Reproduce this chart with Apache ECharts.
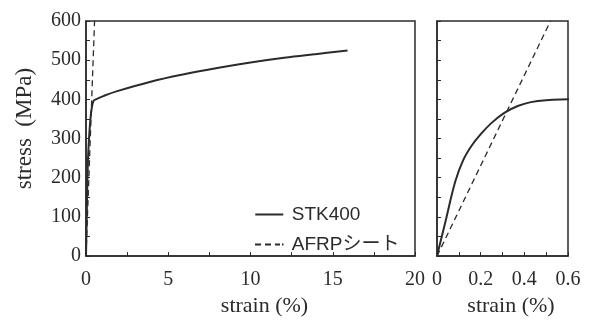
<!DOCTYPE html>
<html>
<head>
<meta charset="utf-8">
<script src="https://cdn.jsdelivr.net/npm/echarts@6/dist/echarts.min.js"></script>
<style>
  html, body { margin: 0; padding: 0; background: #fff; }
  #chart { width: 589px; height: 322px; }
</style>
</head>
<body>
<div id="chart"></div>
<script>
// strain (%) / stress (MPa)
const stkStrain = [0, 0.04, 0.084, 0.12, 0.16, 0.2, 0.25, 0.31, 0.37, 0.43, 0.5, 0.6,
  1.09, 1.9, 3.93, 5.96, 7.98, 10.0, 12.04, 14.06, 15.9];
const stkStress = [0, 91, 191, 245, 283, 311, 340, 366, 383, 393, 398, 400,
  409, 421, 445, 464, 480, 494, 506, 516, 525];
const afrpStrain = [0, 0.52];
const afrpStress = [0, 600];

const seriesNames = ["STK400", "AFRPシート"];
const leftTicks = [0, 5, 10, 15, 20];
const rightTicks = [0, 0.2, 0.4, 0.6];

const stk = stkStrain.map((x, i) => [x, stkStress[i]]);
const afrp = afrpStrain.map((x, i) => [x, afrpStress[i]]);

const serif = "'Liberation Serif', 'DejaVu Serif', serif";
const sans = "'Liberation Sans', 'Noto Sans CJK JP', sans-serif";
const ink = "#2b2b2b";

const tick = { show: true, inside: true, length: 4, lineStyle: { color: ink, width: 1 } };
const minor = { show: true, splitNumber: 2, length: 4, lineStyle: { color: ink, width: 1 } };
const line = { show: true, lineStyle: { color: ink, width: 1.5 } };

// legend swatches: a solid bar and a dashed one
const solidIcon = "path://M0,0h28v2h-28z";
const dashIcon = "path://M0,0h6v2h-6z M10,0h6v2h-6z M20,0h5v2h-5z M27,0h1.5v2h-1.5z";

const chart = echarts.init(document.getElementById("chart"));

chart.setOption({
  backgroundColor: "#fff",
  animation: false,
  grid: [
    { left: 86, top: 21, width: 329, height: 248, show: true, borderColor: ink, borderWidth: 1.5 },
    { left: 437, top: 21, width: 131, height: 248, show: true, borderColor: ink, borderWidth: 1.5 },
  ],
  legend: {
    data: [
      { name: seriesNames[0], icon: solidIcon },
      { name: seriesNames[1], icon: dashIcon },
    ],
    orient: "vertical",
    left: 250,
    top: 200,
    itemWidth: 29,
    itemHeight: 2,
    itemGap: 11,
    itemStyle: { color: ink, borderWidth: 0 },
    textStyle: { fontFamily: sans, fontSize: 19, color: ink, padding: [0, 0, 0, 3] },
  },
  xAxis: [
    {
      gridIndex: 0,
      type: "value",
      min: leftTicks[0],
      max: leftTicks[leftTicks.length - 1],
      interval: 5,
      axisLine: line,
      axisTick: tick,
      minorTick: minor,
      splitLine: { show: false },
      axisLabel: { fontFamily: serif, fontSize: 20, color: ink, margin: 14 },
      name: "strain (%)",
      nameLocation: "middle",
      nameGap: 37,
      nameTextStyle: { fontFamily: serif, fontSize: 22, color: ink, padding: [0, 0, 0, 28] },
    },
    {
      gridIndex: 1,
      type: "value",
      min: rightTicks[0],
      max: rightTicks[rightTicks.length - 1],
      interval: 0.2,
      axisLine: line,
      axisTick: tick,
      minorTick: minor,
      splitLine: { show: false },
      axisLabel: {
        fontFamily: serif, fontSize: 20, color: ink, margin: 14,
        formatter: (v) => (v === 0 ? "0" : v.toFixed(1)),
      },
      name: "strain (%)",
      nameLocation: "middle",
      nameGap: 37,
      nameTextStyle: { fontFamily: serif, fontSize: 22, color: ink, padding: [0, 0, 0, 17] },
    },
  ],
  yAxis: [
    {
      gridIndex: 0,
      type: "value",
      min: 0,
      max: 600,
      interval: 100,
      axisLine: line,
      axisTick: tick,
      minorTick: minor,
      splitLine: { show: false },
      axisLabel: { fontFamily: serif, fontSize: 20, color: ink, margin: 5 },
      name: "stress  (MPa)",
      nameLocation: "middle",
      nameGap: 50,
      nameTextStyle: { fontFamily: serif, fontSize: 23, color: ink, padding: [0, 0, 0, 20] },
    },
    {
      gridIndex: 1,
      type: "value",
      min: 0,
      max: 600,
      interval: 100,
      axisLine: line,
      axisTick: tick,
      minorTick: minor,
      splitLine: { show: false },
      axisLabel: { show: false },
    },
  ],
  series: [
    {
      name: seriesNames[0], type: "line", xAxisIndex: 0, yAxisIndex: 0, data: stk,
      symbol: "none", smooth: 0.4, clip: true,
      lineStyle: { color: ink, width: 2 }, itemStyle: { color: ink },
    },
    {
      name: seriesNames[1], type: "line", xAxisIndex: 0, yAxisIndex: 0, data: afrp,
      symbol: "none", clip: true,
      lineStyle: { color: ink, width: 1.3, type: [6, 4] }, itemStyle: { color: ink },
    },
    {
      name: seriesNames[0], type: "line", xAxisIndex: 1, yAxisIndex: 1, data: stk,
      symbol: "none", smooth: 0.4, clip: true,
      lineStyle: { color: ink, width: 2 }, itemStyle: { color: ink },
    },
    {
      name: seriesNames[1], type: "line", xAxisIndex: 1, yAxisIndex: 1, data: afrp,
      symbol: "none", clip: true,
      lineStyle: { color: ink, width: 1.3, type: [6, 4] }, itemStyle: { color: ink },
    },
  ],
});
</script>
</body>
</html>
